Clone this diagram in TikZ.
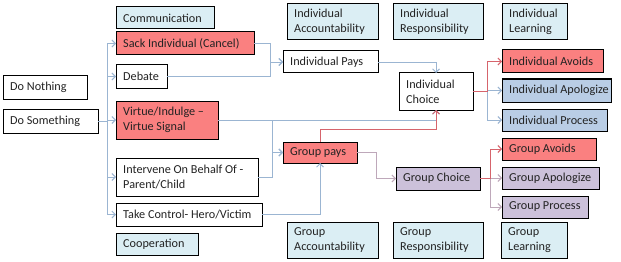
\documentclass[tikz,border=0pt]{standalone}
\usepackage{fontspec}
\setmainfont{Carlito}
\usetikzlibrary{arrows.meta}
\definecolor{lblue}{RGB}{219,238,244}
\definecolor{lred}{RGB}{250,128,128}
\definecolor{gblue}{RGB}{185,205,229}
\definecolor{lav}{RGB}{204,193,218}
\definecolor{cblue}{RGB}{155,181,210}
\definecolor{cred}{RGB}{214,100,108}
\definecolor{clav}{RGB}{190,168,186}
\definecolor{txt}{RGB}{35,35,35}
\newcommand\mybx[7]{%
\pgfmathsetmacro\mybh{#5-#3}\pgfmathsetmacro\mybw{#4-#2}%
\node[box,#6,minimum height=\mybh pt,minimum width=\mybw pt,anchor=north west] (#1) at (#2,#3) {};
\node[lbl,anchor=west] (#1t) at ([xshift=7pt]#1.west) {#7};}
\begin{document}
\begin{tikzpicture}[x=1pt,y=-1pt,
  box/.style={draw=black,line width=1pt,inner sep=0pt,outer sep=0pt},
  lbl/.style={inner sep=0pt,align=left,font=\fontsize{12.2}{15}\selectfont,text=txt},
  conn/.style={draw=cblue,line width=0.9pt,-{Straight Barb[length=3.5pt,width=7pt]}},
  connr/.style={conn,draw=cred},
  connl/.style={conn,draw=clav}]
\useasboundingbox (0,0) rectangle (621,262);
\fill[white] (0,0) rectangle (621,262);
\mybx{donothing}{3}{76}{87}{99}{fill=white}{Do Nothing}
\mybx{dosome}{3}{109}{98}{133}{fill=white}{Do Something}
\mybx{comm}{116}{7}{214}{29}{fill=lblue}{Communication}
\mybx{sack}{116}{32}{254}{55}{fill=lred}{Sack Individual (Cancel)}
\mybx{debate}{116}{65}{167}{88}{fill=white}{Debate}
\mybx{virtue}{116}{101}{218}{139}{fill=lred}{Virtue/Indulge --\\Virtue Signal}
\mybx{intervene}{116}{158}{258}{196}{fill=white}{Intervene On Behalf Of -\\Parent/Child}
\mybx{takectrl}{116}{203}{262}{226}{fill=white}{Take Control- Hero/Victim}
\mybx{coop}{116}{233}{198}{255}{fill=lblue}{Cooperation}
\mybx{iacc}{287}{4}{378}{40}{fill=lblue}{Individual\\Accountability}
\mybx{iresp}{393}{4}{483}{40}{fill=lblue}{Individual\\Responsibility}
\mybx{ilearn}{502}{4}{567}{40}{fill=lblue}{Individual\\Learning}
\mybx{ipays}{283}{51}{378}{73}{fill=white}{Individual Pays}
\mybx{ichoice}{399}{73}{473}{110}{fill=white}{Individual\\Choice}
\mybx{iavoid}{502}{50}{603}{73}{fill=lred}{Individual Avoids}
\mybx{iapol}{502}{79}{611}{102}{fill=gblue}{Individual Apologize}
\mybx{iproc}{502}{109}{607}{131}{fill=gblue}{Individual Process}
\mybx{gpays}{283}{142}{357}{163}{fill=lred}{Group pays}
\mybx{gchoice}{396}{167}{480}{190}{fill=lav}{Group Choice}
\mybx{gavoid}{502}{138}{596}{160}{fill=lred}{Group Avoids}
\mybx{gapol}{502}{167}{599}{189}{fill=lav}{Group Apologize}
\mybx{gproc}{502}{196}{588}{218}{fill=lav}{Group Process}
\mybx{gacc}{287}{222}{378}{258}{fill=lblue}{Group\\Accountability}
\mybx{gresp}{393}{222}{483}{258}{fill=lblue}{Group\\Responsibility}
\mybx{glearn}{501}{222}{567}{258}{fill=lblue}{Group\\Learning}
% Do Something fork
\foreach \t in {sack,debate,virtue,intervene,takectrl}
  \draw[conn] (dosome.east) -- ([xshift=9pt]dosome.east) |- (\t.west);
% to Individual Pays
\draw[conn] (sack.east) -| ([xshift=-13pt]ipays.west) -- (ipays.west);
\draw[conn] (debate.east) -| ([xshift=-13pt]ipays.west) -- (ipays.west);
\draw[conn] (ipays.east) -| (ichoice.north);
% Virtue
\draw[conn] (virtue.east) -| (ichoice.south);
\draw[conn] (virtue.east) -| ([xshift=-11pt]gpays.west) -- (gpays.west);
\draw[conn] (intervene.east) -| ([xshift=-11pt]gpays.west) -- (gpays.west);
\draw[conn] (takectrl.east) -| (gpays.south);
% Group pays
\coordinate (rj) at (ichoice.south |- 0,129);
\draw[connr] (gpays.north) |- (rj) -- (ichoice.south);
\draw[connl] (gpays.east) -| ([xshift=-20pt]gchoice.west) -- (gchoice.west);
% Individual fork
\draw[conn] (ichoice.east) -| ([xshift=-15pt]iapol.west) -- (iapol.west);
\draw[conn] (ichoice.east) -| ([xshift=-15pt]iproc.west) -- (iproc.west);
\draw[connr] (ichoice.east) -| ([xshift=-15pt]iavoid.west) -- (iavoid.west);
% Group fork
\draw[connl] (gchoice.east) -| ([xshift=-12pt]gapol.west) -- (gapol.west);
\draw[connl] (gchoice.east) -| ([xshift=-12pt]gproc.west) -- (gproc.west);
\draw[connr] (gchoice.east) -| ([xshift=-12pt]gavoid.west) -- (gavoid.west);
\end{tikzpicture}
\end{document}
